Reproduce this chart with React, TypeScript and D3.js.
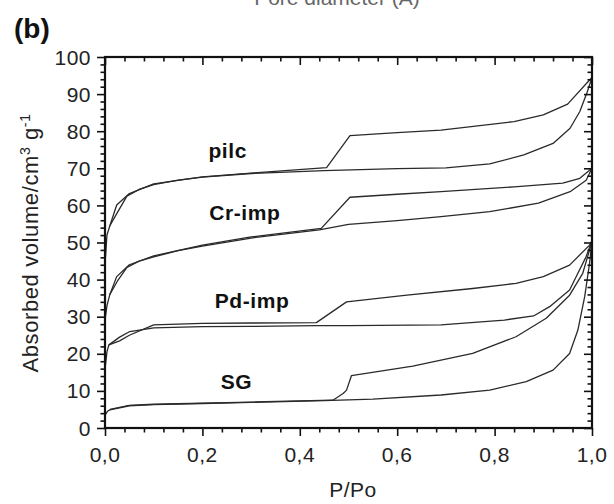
import React, { useEffect, useRef } from 'react';
import * as d3 from 'd3';

// P/Po, volume pairs
const pilcAds: [number, number][] = [
  [0.001, 46], [0.004, 52], [0.01, 54.5], [0.025, 58], [0.045, 62.5], [0.07, 64.3], [0.1, 65.6],
  [0.15, 66.8], [0.2, 67.6], [0.3, 68.6], [0.45, 69.4], [0.6, 69.9], [0.7, 70.1], [0.79, 71.2],
  [0.86, 73.6], [0.92, 76.7], [0.955, 80.8], [0.975, 85.3], [0.99, 90.5], [1.0, 94.5],
];
const pilcDes: [number, number][] = [
  [1.0, 94.5], [0.995, 93.8], [0.95, 87.3], [0.9, 84.4], [0.84, 82.6], [0.69, 80.3], [0.6, 79.6],
  [0.503, 78.8], [0.455, 70.2], [0.3, 68.7], [0.2, 67.7], [0.1, 65.8], [0.05, 63.2], [0.024, 60.1],
  [0.01, 54.5],
];
const crAds: [number, number][] = [
  [0.001, 30], [0.004, 33], [0.01, 36], [0.025, 39.5], [0.045, 43.3], [0.07, 45], [0.1, 46.1],
  [0.15, 47.8], [0.2, 49], [0.3, 51.2], [0.44, 53.4], [0.5, 54.9], [0.6, 55.9], [0.69, 57],
  [0.79, 58.3], [0.89, 60.6], [0.955, 63.7], [0.988, 66.8], [1.0, 70],
];
const crDes: [number, number][] = [
  [1.0, 70], [0.995, 69.5], [0.975, 67.3], [0.94, 66], [0.84, 65], [0.69, 63.7], [0.6, 63],
  [0.503, 62.2], [0.444, 53.8], [0.3, 51.5], [0.2, 49.3], [0.1, 46.4], [0.05, 44], [0.024, 40.8],
  [0.01, 36],
];
const pdAds: [number, number][] = [
  [0.001, 17], [0.004, 20.5], [0.008, 22.4], [0.03, 24.5], [0.051, 26], [0.1, 27], [0.2, 27.3],
  [0.3, 27.4], [0.434, 27.6], [0.5, 27.6], [0.69, 27.8], [0.82, 29.1], [0.88, 30.2], [0.913, 32.7],
  [0.954, 37.2], [0.971, 41.7], [0.988, 46.2], [1.0, 50.5],
];
const pdDes: [number, number][] = [
  [1.0, 50.5], [0.995, 49.3], [0.954, 43.9], [0.9, 40.8], [0.844, 39], [0.755, 37.6], [0.62, 35.8],
  [0.496, 34], [0.434, 28.4], [0.3, 28.3], [0.2, 28.2], [0.1, 27.8], [0.05, 25], [0.03, 23.5],
  [0.008, 22.4],
];
const sgAds: [number, number][] = [
  [0.0005, 3.5], [0.005, 4.5], [0.01, 4.9], [0.05, 6], [0.1, 6.3], [0.2, 6.6], [0.3, 6.9],
  [0.45, 7.4], [0.55, 7.8], [0.69, 8.9], [0.79, 10.2], [0.865, 12.5], [0.92, 15.6], [0.954, 20.1],
  [0.971, 26.4], [0.985, 35.4], [0.995, 44.4], [1.0, 50.5],
];
const sgDes: [number, number][] = [
  [1.0, 50.5], [0.995, 48], [0.981, 41.7], [0.954, 35.8], [0.906, 29.6], [0.844, 24.6], [0.755, 20.1],
  [0.632, 16.7], [0.506, 14.1], [0.496, 10.2], [0.489, 9.3], [0.468, 7.5], [0.3, 7], [0.1, 6.4],
  [0.05, 6.1], [0.01, 5],
];

const seriesNames = ['pilc', 'Cr-imp', 'Pd-imp', 'SG'];
const seriesCurves = [[pilcAds, pilcDes], [crAds, crDes], [pdAds, pdDes], [sgAds, sgDes]];
// label anchor [P/Po, volume] (baseline)
const labelSpots: [number, number][] = [[0.252, 72.8], [0.287, 56.1], [0.302, 32.3], [0.27, 10.6]];

const xTicks = [0, 0.2, 0.4, 0.6, 0.8, 1.0];
const yTicks = [0, 10, 20, 30, 40, 50, 60, 70, 80, 90, 100];

const App = () => {
  const svgRef = useRef<SVGSVGElement>(null);

  useEffect(() => {
    const svg = d3.select(svgRef.current);
    svg.selectAll('*').remove();

    const x = d3.scaleLinear().domain([0, 1]).range([105, 592]);
    const y = d3.scaleLinear().domain([0, 100]).range([428, 57]);
    const font = '"Liberation Sans", Arial, sans-serif';

    // curves
    const line = d3.line<[number, number]>().x(d => x(d[0])).y(d => y(d[1]));
    seriesCurves.forEach(pair => {
      pair.forEach(c => {
        svg.append('path')
          .attr('d', line(c))
          .attr('fill', 'none')
          .attr('stroke', '#2a2a2a')
          .attr('stroke-width', 1.3)
          .attr('stroke-linejoin', 'round');
      });
    });

    // ticks
    const minorX = d3.range(0, 1.0001, 0.04);
    const minorY = d3.range(0, 100.001, 2);
    const isMajorX = (v: number) => Math.abs(v * 5 - Math.round(v * 5)) < 1e-6;
    const isMajorY = (v: number) => Math.abs(v % 10) < 1e-6;

    const bottom = svg.append('g').attr('transform', `translate(0,${y(0)})`)
      .call(d3.axisBottom(x).tickValues(minorX).tickSize(0).tickFormat(() => ''));
    const top = svg.append('g').attr('transform', `translate(0,${y(100)})`)
      .call(d3.axisBottom(x).tickValues(minorX).tickSize(0).tickFormat(() => ''));
    const left = svg.append('g').attr('transform', `translate(${x(0)},0)`)
      .call(d3.axisLeft(y).tickValues(minorY).tickSize(0).tickFormat(() => ''));
    const right = svg.append('g').attr('transform', `translate(${x(1)},0)`)
      .call(d3.axisLeft(y).tickValues(minorY).tickSize(0).tickFormat(() => ''));

    [bottom, top].forEach(g => {
      g.select('.domain').remove();
      g.selectAll('.tick line')
        .attr('y2', (d: any) => (isMajorX(d) ? 8 : 4.5))
        .attr('stroke', '#111').attr('stroke-width', 1.6);
    });
    [left, right].forEach(g => {
      g.select('.domain').remove();
      g.selectAll('.tick line')
        .attr('x2', (d: any) => (isMajorY(d) ? -8 : -4.5))
        .attr('stroke', '#111').attr('stroke-width', 1.6);
    });

    // frame
    svg.append('rect')
      .attr('x', x(0)).attr('y', y(100))
      .attr('width', x(1) - x(0)).attr('height', y(0) - y(100))
      .attr('fill', 'none').attr('stroke', '#111').attr('stroke-width', 2.2);

    // tick labels
    svg.selectAll('.xl').data(xTicks).enter().append('text')
      .attr('x', d => x(d)).attr('y', 462)
      .attr('text-anchor', 'middle')
      .style('font-family', font).style('font-size', '21px').style('letter-spacing', '0.5px')
      .attr('fill', '#222')
      .text(d => d.toFixed(1).replace('.', ','));

    svg.selectAll('.yl').data(yTicks).enter().append('text')
      .attr('x', 91).attr('y', d => y(d) + 7.5)
      .attr('text-anchor', 'end')
      .style('font-family', font).style('font-size', '21px').style('letter-spacing', '0.5px')
      .attr('fill', '#222')
      .text(d => String(d));

    // series labels
    svg.selectAll('.sl').data(seriesNames).enter().append('text')
      .attr('x', (d, i) => x(labelSpots[i][0])).attr('y', (d, i) => y(labelSpots[i][1]))
      .attr('text-anchor', 'middle')
      .style('font-family', font).style('font-size', '21px').style('font-weight', 'bold')
      .style('letter-spacing', '0.6px').attr('fill', '#111')
      .text(d => d);

    // axis titles
    svg.append('text')
      .attr('x', 353).attr('y', 497)
      .attr('text-anchor', 'middle')
      .style('font-family', font).style('font-size', '21px').style('letter-spacing', '0.5px')
      .attr('fill', '#222')
      .text('P/Po');

    const yt = svg.append('text')
      .attr('transform', 'translate(38,243) rotate(-90)')
      .attr('text-anchor', 'middle')
      .style('font-family', font).style('font-size', '22px').style('letter-spacing', '0.6px')
      .attr('fill', '#222');
    yt.append('tspan').text('Absorbed volume/cm');
    yt.append('tspan').attr('dy', -8).style('font-size', '14px').text('3');
    yt.append('tspan').attr('dy', 8).text(' g');
    yt.append('tspan').attr('dy', -8).style('font-size', '14px').text('-1');

    svg.append('text')
      .attr('x', 14).attr('y', 38)
      .style('font-family', font).style('font-size', '28px').style('font-weight', 'bold')
      .attr('fill', '#111')
      .text('(b)');

    // cut-off title from the panel above (only its lower edge shows, as in the source)
    svg.append('text')
      .attr('x', 337).attr('y', 5)
      .attr('text-anchor', 'middle')
      .style('font-family', font).style('font-size', '21px').attr('fill', '#666')
      .text('Pore diameter (Å)');
  }, []);

  return (
    <svg ref={svgRef} width={614} height={504}
      style={{ position: 'absolute', left: 0, top: 0, background: '#fff' }} />
  );
};

export default App;
